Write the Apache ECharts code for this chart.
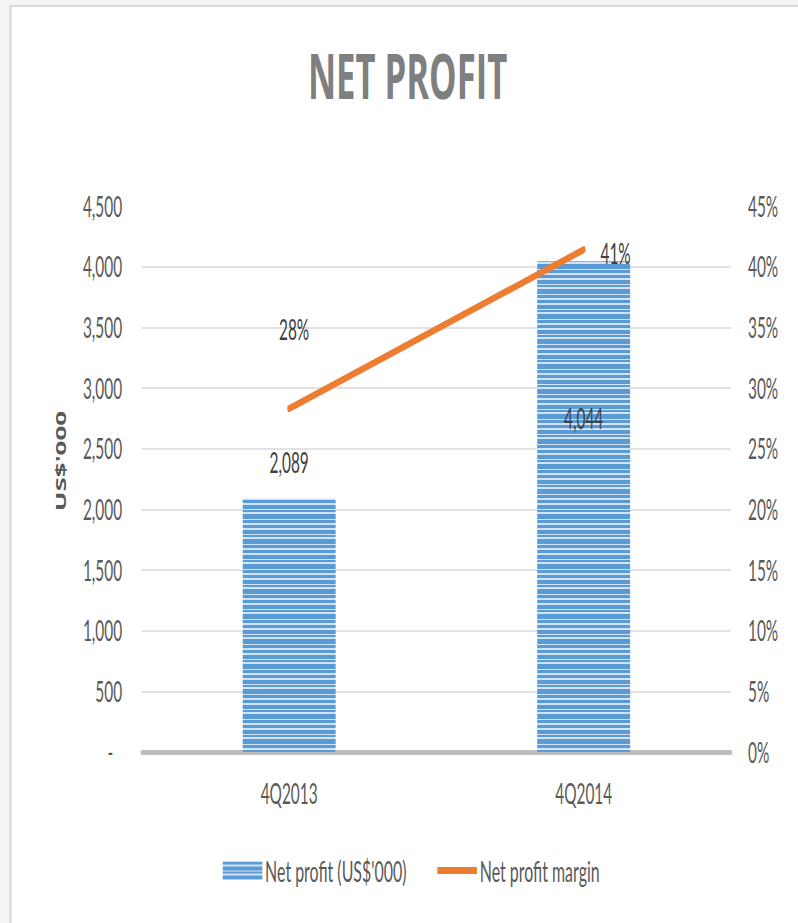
<!DOCTYPE html>
<html><head><meta charset="utf-8">
<script src="https://cdn.jsdelivr.net/npm/echarts@6/dist/echarts.min.js"></script>
<style>
html,body{margin:0;padding:0;background:#fff;overflow:hidden;width:798px;height:923px}
#wrap{width:798px;height:923px;overflow:hidden;position:relative;background:#fff}
#chart{width:1451px;height:923px;transform:scaleX(0.55);transform-origin:0 0;position:absolute;left:0;top:0}
</style></head><body><div id="wrap"><div id="chart"></div></div>
<script>
// ---- data ----
const categories = ['4Q2013', '4Q2014'];
const netProfit = [2089, 4044];
const netProfitMargin = [28.3, 41.4];
const barSeriesName = "Net profit (US$'000)";
const lineSeriesName = 'Net profit margin';
const chartTitle = 'NET PROFIT';
const leftAxisName = "US$'000";

// ---- style ----
function stripePattern() {
  const rows = [[3, 1], [2, 0], [4, 1], [1, 0], [2, 1], [2, 0], [5, 1], [1, 0], [3, 1], [2, 0]];
  const h = rows.reduce((s, r) => s + r[0], 0);
  const c = document.createElement('canvas');
  c.width = 8; c.height = h;
  const g = c.getContext('2d');
  let y = 0;
  rows.forEach(([n, blue]) => {
    g.fillStyle = blue ? '#5b9bd5' : '#d2e3f4';
    g.fillRect(0, y, 8, n);
    y += n;
  });
  return { image: c, repeat: 'repeat', imageWidth: 8, imageHeight: h };
}
const pattern = stripePattern();
const labelFont = 'Lato, "Liberation Sans", sans-serif';
const barLabelCfg = [
  { position: 'top', distance: 22 },
  { position: 'insideTop', distance: 143 }
];
const lineLabelCfg = [
  { position: 'inside', offset: [9, -79] },
  { position: 'inside', offset: [58, 4] }
];

const chart = echarts.init(document.getElementById('chart'), null, { renderer: 'svg' });
chart.setOption({
  animation: false,
  backgroundColor: '#fff',
  title: {
    text: chartTitle, left: 736, top: 38, textAlign: 'center',
    textStyle: { fontFamily: '"Open Sans", sans-serif', fontWeight: 'bold', fontSize: 63, color: '#7f7f7f' }
  },
  graphic: [
    { type: 'rect', shape: { x: 0, y: 0, width: 1451, height: 5 }, style: { fill: '#f5f5f5' }, silent: true },
    { type: 'rect', shape: { x: 0, y: 0, width: 17, height: 923 }, style: { fill: '#f5f5f5' }, silent: true },
    { type: 'line', shape: { x1: 17, y1: 6, x2: 1451, y2: 6 }, style: { stroke: '#d9d9d9', lineWidth: 2 }, silent: true },
    { type: 'line', shape: { x1: 19, y1: 5, x2: 19, y2: 923 }, style: { stroke: '#d9d9d9', lineWidth: 4 }, silent: true }
  ],
  legend: {
    left: 400, top: 851, itemWidth: 72, itemHeight: 18, itemGap: 56,
    textStyle: { fontFamily: labelFont, fontSize: 29, color: '#595959' },
    data: [
      { name: barSeriesName, icon: 'rect' },
      { name: lineSeriesName, icon: 'path://M0,0 L72,0 L72,7 L0,7 Z', itemStyle: { color: '#ed7d31' } }
    ]
  },
  grid: { left: 258, right: 122, top: 206, bottom: 171, containLabel: false },
  xAxis: {
    type: 'category', data: categories,
    axisTick: { show: false },
    axisLine: { lineStyle: { color: '#bfbfbf', width: 5 } },
    axisLabel: { fontFamily: labelFont, fontSize: 28, color: '#595959', margin: 27 }
  },
  yAxis: [
    {
      type: 'value', min: 0, max: 4500, interval: 500,
      name: leftAxisName, nameLocation: 'middle', nameGap: 135, nameRotate: 90,
      nameTextStyle: { fontFamily: '"Open Sans", sans-serif', fontWeight: 'bold', fontSize: 26, color: '#595959', padding: [0, 0, 0, 36] },
      axisLine: { show: false }, axisTick: { show: false },
      splitLine: { show: true, showMaxLine: false, showMinLine: false, lineStyle: { color: '#d9d9d9', width: 1.5 } },
      axisLabel: {
        fontFamily: labelFont, fontSize: 28, color: '#595959', margin: 36,
        formatter: v => v === 0 ? '{d|-}' : v.toLocaleString('en-US'),
        rich: { d: { fontFamily: labelFont, fontSize: 28, color: '#595959', padding: [0, 16, 0, 0] } }
      }
    },
    {
      type: 'value', min: 0, max: 45, interval: 5, position: 'right',
      axisLine: { show: false }, axisTick: { show: false }, splitLine: { show: false },
      axisLabel: { fontFamily: labelFont, fontSize: 28, color: '#595959', margin: 31, formatter: v => v + '%' }
    }
  ],
  series: [
    {
      name: barSeriesName, type: 'bar', yAxisIndex: 0, barWidth: 169,
      itemStyle: { color: pattern },
      label: { show: true, fontFamily: labelFont, fontSize: 28, color: '#404040', formatter: p => p.value.toLocaleString('en-US') },
      data: netProfit.map((v, i) => ({ value: v, label: barLabelCfg[i] }))
    },
    {
      name: lineSeriesName, type: 'line', yAxisIndex: 1, z: 5,
      symbol: 'circle', symbolSize: 1, showSymbol: true,
      itemStyle: { color: '#ed7d31' },
      lineStyle: { color: '#ed7d31', width: 7, cap: 'round' },
      label: { show: true, fontFamily: labelFont, fontSize: 28, color: '#404040', formatter: p => Math.round(p.value) + '%' },
      data: netProfitMargin.map((v, i) => ({ value: v, label: lineLabelCfg[i] }))
    }
  ]
});
</script></body></html>
